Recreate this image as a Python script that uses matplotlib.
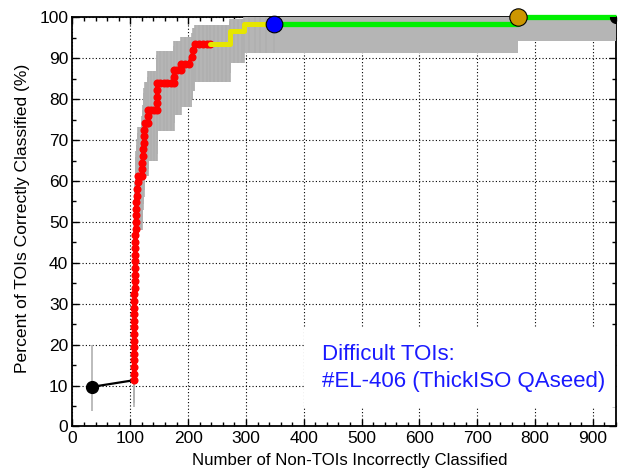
import numpy as np
import matplotlib
matplotlib.use("Agg")
import matplotlib.pyplot as plt
from matplotlib.patches import Rectangle
from matplotlib.ticker import MultipleLocator

plt.rcParams["font.family"] = ["Liberation Sans", "DejaVu Sans"]

n_tois = 62

# ROC operating points: non-TOIs misclassified vs. TOIs found (count out of n_tois)
red_x = [106, 106, 106, 106, 106, 106, 106.5, 106.5, 106.5, 107, 107, 107, 107, 107,
         107.5, 107.5, 107.5, 108, 108, 108, 108, 108.5, 108.5, 109, 109, 109.5, 110,
         110.5, 111, 112, 113, 114, 118, 121, 121, 121, 121.5, 122, 123, 124, 124.5,
         125, 128, 131, 131, 131, 136, 141, 146, 146, 146, 146, 146, 152, 158, 164,
         170, 175, 175, 175, 181, 187, 187, 194, 201, 206, 209, 212, 218, 225, 232, 238]
red_k = [7, 8, 9, 10, 11, 12, 13, 14, 15, 16, 17, 18, 19, 20,
         21, 22, 23, 24, 25, 26, 27, 28, 29, 30, 31, 32, 33,
         34, 35, 36, 37, 38, 38, 38, 39, 40, 41, 42, 43, 44, 45,
         46, 46, 46, 47, 48, 48, 48, 48, 49, 50, 51, 52, 52, 52, 52,
         52, 52, 53, 54, 54, 54, 55, 55, 55, 56, 57, 58, 58, 58, 58, 58]

yellow_x = [238, 245, 252, 259, 266, 272, 272, 272, 279, 286, 293, 296, 296, 305, 315, 325, 335, 348]
yellow_k = [58, 58, 58, 58, 58, 58, 59, 60, 60, 60, 60, 60, 61, 61, 61, 61, 61, 61]

green_x = [348, 770, 770, 940]
green_k = [61, 61, 62, 62]

# single highlighted operating points
start_pt = (34, 6)
blue_pt = (348, 61)
gold_pt = (770, 62)
end_pt = (940, 62)

# 95% confidence limits (%) for each TOI count, from k = 6 up to k = 62
ci_low = [3.7, 4.7, 5.8, 6.9, 8.1, 9.3, 10.5, 11.7, 13.1, 14.5, 15.9, 17.2, 18.6, 19.9,
          21.3, 22.7, 24.0, 25.5, 26.9, 28.3, 29.8, 31.2, 32.7, 34.2, 35.7, 37.2, 38.7,
          40.2, 41.8, 43.3, 44.9, 46.5, 48.1, 49.7, 51.3, 52.9, 54.5, 56.2, 57.9, 59.6,
          61.2, 63.0, 64.8, 66.6, 68.5, 70.3, 72.2, 74.1, 76.1, 78.1, 80.1, 82.1, 84.3,
          86.5, 88.8, 91.3, 94.2]
ci_high = [19.9, 22.0, 23.9, 25.9, 27.8, 29.7, 31.5, 33.4, 35.2, 37.0, 38.8, 40.4, 42.1,
           43.8, 45.5, 47.1, 48.7, 50.4, 52.0, 53.5, 55.1, 56.7, 58.2, 59.8, 61.3, 62.8,
           64.3, 65.8, 67.3, 68.8, 70.3, 71.7, 73.1, 74.6, 76.0, 77.4, 78.7, 80.1, 81.5,
           82.8, 84.1, 85.5, 87.0, 88.3, 89.5, 90.7, 91.9, 93.1, 94.2, 95.3, 96.3, 97.3,
           98.2, 99.0, 99.6, 100.0, 100.0]
k_first = 6


def pct(k):
    return 100.0 * np.asarray(k, dtype=float) / n_tois


def limits(k):
    idx = np.asarray(k) - k_first
    return np.asarray(ci_low)[idx], np.asarray(ci_high)[idx]


fig = plt.figure(figsize=(6.18, 4.73), dpi=100)
ax = fig.add_axes([0.1173, 0.0985, 0.8795, 0.8647])

# confidence band, drawn over the top spine like the original plot
all_x = np.array(red_x + yellow_x + green_x, dtype=float)
all_k = np.array(red_k + yellow_k + green_k)
lo, hi = limits(all_k)
ax.fill_between(all_x, lo, hi, step="post", color="#b5b5b5", lw=0, zorder=2.6)

bar_x = np.array([start_pt[0]] + red_x + yellow_x, dtype=float)
bar_k = np.array([start_pt[1]] + red_k + yellow_k)
blo, bhi = limits(bar_k)
ax.vlines(bar_x, blo, bhi, color="#b0b0b0", lw=1.2, zorder=2.7)

# curve segments
ax.plot([start_pt[0], red_x[0]], pct([start_pt[1], red_k[0]]), color="black", lw=1.6, zorder=3)
ax.plot(red_x, pct(red_k), color="#ff0000", lw=2.6, marker="o", ms=4.8,
        mec="#ff0000", zorder=4)
ax.plot(yellow_x, pct(yellow_k), color="#e6e600", lw=3.6, solid_capstyle="round",
        solid_joinstyle="round", zorder=4)
ax.plot(green_x, pct(green_k), color="#00f000", lw=3.8, solid_capstyle="butt",
        zorder=4, clip_on=False)

ax.plot(start_pt[0], pct(start_pt[1]), "o", color="black", ms=8.5, zorder=5)
ax.plot(blue_pt[0], pct(blue_pt[1]), "o", color="#0000ff", mec="black", mew=0.8,
        ms=12, zorder=5, clip_on=False)
ax.plot(gold_pt[0], pct(gold_pt[1]), "o", color="#cc9600", mec="black", mew=0.8,
        ms=12.5, zorder=5, clip_on=False)
ax.plot(end_pt[0], pct(end_pt[1]), "o", color="black", ms=8.5, zorder=5)

ax.set_xlim(0, 940)
ax.set_ylim(0, 100)
ax.xaxis.set_major_locator(MultipleLocator(100))
ax.xaxis.set_minor_locator(MultipleLocator(20))
ax.yaxis.set_major_locator(MultipleLocator(10))
ax.yaxis.set_minor_locator(MultipleLocator(5))
ax.tick_params(which="both", direction="in", top=True, right=True, width=1.0, labelsize=12.5)
ax.tick_params(which="major", length=5)
ax.tick_params(which="minor", length=3)
ax.tick_params(axis="x", pad=3)
ax.tick_params(axis="y", pad=3)
for s in ax.spines.values():
    s.set_linewidth(1.3)

ax.set_axisbelow(True)
ax.grid(True, which="major", color="black", ls=(0, (1, 2)), lw=0.8)

ax.set_xlabel("Number of Non-TOIs Incorrectly Classified", fontsize=12.1)
ax.set_ylabel("Percent of TOIs Correctly Classified (%)", fontsize=12.6)
ax.yaxis.set_label_coords(-0.078, 0.51)
ax.xaxis.set_label_coords(0.51, -0.066)

# white panel behind the caption hides the grid there
ax.add_patch(Rectangle((400, 4.7), 540, 19.4, facecolor="white", edgecolor="none", zorder=1))
ax.text(0.459, 0.1746, "Difficult TOIs:", transform=ax.transAxes, color="#1a1aff",
        fontsize=16, va="center", ha="left", zorder=6)
ax.text(0.459, 0.111, "#EL-406 (ThickISO QAseed)", transform=ax.transAxes, color="#1a1aff",
        fontsize=16, va="center", ha="left", zorder=6)

fig.savefig("out.png", dpi=100)
